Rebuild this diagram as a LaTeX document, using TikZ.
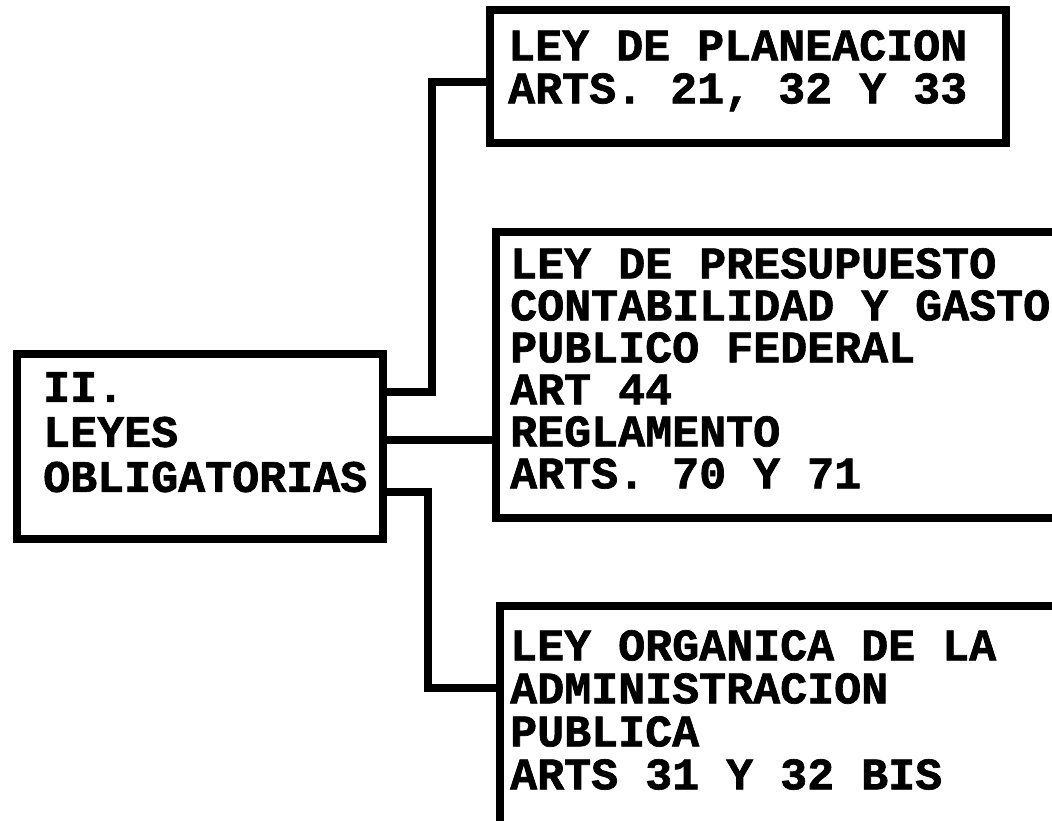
\documentclass[tikz,border=0pt]{standalone}
\usepackage{fontspec}
\newfontfamily\dotfont[FakeBold=1.5]{Liberation Mono}
\begin{document}
\begin{tikzpicture}[x=1pt,y=-1pt,
  lawbox/.style={draw, line width=8.5pt, inner sep=0pt},
  txt/.style={anchor=north west, inner sep=0pt, align=left,
    font={\dotfont\bfseries\fontsize{45pt}{43pt}\selectfont}},
  conn/.style={line width=8.5pt, line join=miter}]
\useasboundingbox (0,0) rectangle (1052,820);
\clip (0,0) rectangle (1052,820);
% boxes
\node[lawbox, minimum width=366pt, minimum height=185pt] (L) at (200,446.5) {};
\node[lawbox, minimum width=516pt, minimum height=133pt] (T) at (748,76.5) {};
\node[lawbox, minimum width=579pt, minimum height=286pt] (M) at (785.5,375) {};
\node[lawbox, minimum width=575pt, minimum height=254pt] (B) at (787.5,733) {};
% texts
\node[txt, font={\dotfont\bfseries\fontsize{45pt}{45pt}\selectfont}] (Lt) at (43,372) {II.\\LEYES\\OBLIGATORIAS};
\node[txt] (Tt) at (508,30) {LEY DE PLANEACION\\ARTS. 21, 32 Y 33};
\node[txt, font={\dotfont\bfseries\fontsize{45pt}{42pt}\selectfont}] (Mt) at (510,248) {LEY DE PRESUPUESTO\\CONTABILIDAD Y GASTO\\PUBLICO FEDERAL\\ART 44\\REGLAMENTO\\ARTS. 70 Y 71};
\node[txt] (Bt) at (510,630) {LEY ORGANICA DE LA\\ADMINISTRACION\\PUBLICA\\ARTS 31 Y 32 BIS};
% connector junctions
\coordinate (a1) at (432,392);
\coordinate (a2) at (432,82);
\coordinate (m1) at (440,440);
\coordinate (b1) at (428,492);
\coordinate (b2) at (428,688);
\draw[conn] (L.east |- a1) -- (a1) -- (a2) -- (T.west |- a2);
\draw[conn] (L.east |- m1) -- (M.west |- m1);
\draw[conn] (L.east |- b1) -- (b1) -- (b2) -- (B.west |- b2);
\end{tikzpicture}
\end{document}
